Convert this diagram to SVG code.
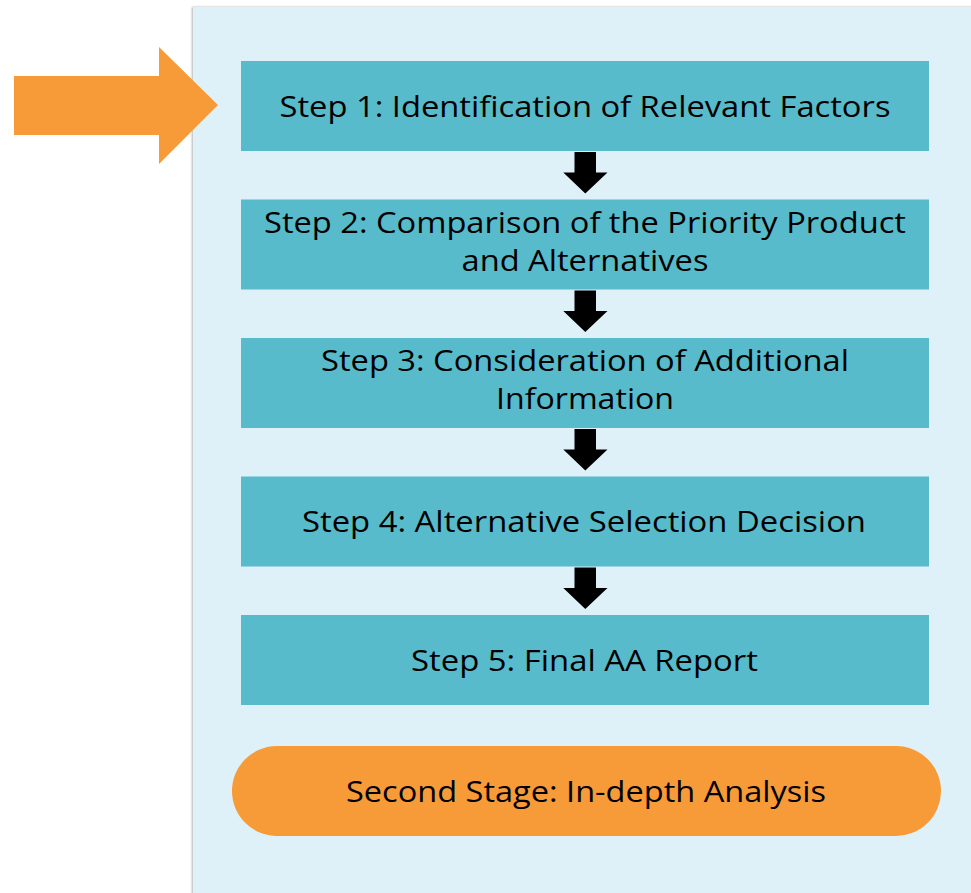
<svg xmlns="http://www.w3.org/2000/svg" width="971" height="893" viewBox="0 0 971 893">
<defs>
<style>
.step{fill:#57BBCB}
.lbl{font-family:"Open Sans","Liberation Sans",sans-serif;font-size:29px;fill:#000;text-anchor:middle}
.down{fill:#000}
</style>
<filter id="sh" x="-5%" y="-5%" width="110%" height="110%"><feDropShadow dx="-1" dy="0" stdDeviation="1.2" flood-color="#000" flood-opacity="0.3"/></filter>
</defs>
<rect width="971" height="893" fill="#fff"/>
<rect x="193" y="7" width="790" height="900" fill="#DEF1F8" filter="url(#sh)"/>
<g id="entry-arrow"><polygon points="14,76 159,76 159,47 218,105 159,164 159,135 14,135" fill="#F79A38"/></g>
<g id="step1"><rect class="step" x="241" y="61" width="688" height="90"/><text class="lbl" x="585" y="117" textLength="611" lengthAdjust="spacingAndGlyphs">Step 1: Identification of Relevant Factors</text></g>
<g id="step2"><rect class="step" x="241" y="199.5" width="688" height="90"/><text class="lbl" x="585" y="233" textLength="642" lengthAdjust="spacingAndGlyphs">Step 2: Comparison of the Priority Product</text><text class="lbl" x="585" y="271" textLength="247" lengthAdjust="spacingAndGlyphs">and Alternatives</text></g>
<g id="step3"><rect class="step" x="241" y="338" width="688" height="90"/><text class="lbl" x="585" y="371" textLength="528" lengthAdjust="spacingAndGlyphs">Step 3: Consideration of Additional</text><text class="lbl" x="585" y="409" textLength="178" lengthAdjust="spacingAndGlyphs">Information</text></g>
<g id="step4"><rect class="step" x="241" y="476.5" width="688" height="90"/><text class="lbl" x="584" y="532" textLength="564" lengthAdjust="spacingAndGlyphs">Step 4: Alternative Selection Decision</text></g>
<g id="step5"><rect class="step" x="241" y="615" width="688" height="90"/><text class="lbl" x="584.5" y="671" textLength="347" lengthAdjust="spacingAndGlyphs">Step 5: Final AA Report</text></g>
<g id="second-stage"><rect x="232" y="746" width="709" height="90" rx="45" fill="#F79A38"/><text class="lbl" x="586" y="802" textLength="480" lengthAdjust="spacingAndGlyphs">Second Stage: In-depth Analysis</text></g>
<g id="connectors">
<polygon class="down" points="574.5,152 596,152 596,172.5 607.5,172.5 585.3,193.5 563.3,172.5 574.5,172.5"/>
<polygon class="down" points="574.5,290.5 596,290.5 596,311 607.5,311 585.3,332 563.3,311 574.5,311"/>
<polygon class="down" points="574.5,429 596,429 596,449.5 607.5,449.5 585.3,470.5 563.3,449.5 574.5,449.5"/>
<polygon class="down" points="574.5,567.5 596,567.5 596,588 607.5,588 585.3,609 563.3,588 574.5,588"/>
</g>
</svg>
